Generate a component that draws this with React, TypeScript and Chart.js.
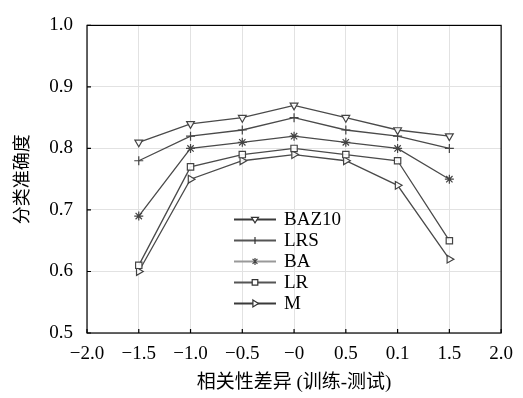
import React, { useEffect, useRef } from "react";
import { Chart, registerables } from "chart.js";
Chart.register(...registerables);

const xLabels = ["−2.0", "−1.5", "−1.0", "−0.5", "−0", "0.5", "0.1", "1.5", "2.0"];
const yTicks = [0.5, 0.6, 0.7, 0.8, 0.9, 1.0];
const seriesNames = ["BAZ10", "LRS", "BA", "LR", "M"];
const baz10 = [null, 0.81, 0.84, 0.85, 0.87, 0.85, 0.83, 0.82, null];
const lrs = [null, 0.78, 0.82, 0.83, 0.85, 0.83, 0.82, 0.80, null];
const ba = [null, 0.69, 0.80, 0.81, 0.82, 0.81, 0.80, 0.75, null];
const lr = [null, 0.61, 0.77, 0.79, 0.80, 0.79, 0.78, 0.65, null];
const m = [null, 0.60, 0.75, 0.78, 0.79, 0.78, 0.74, 0.62, null];
const xTitle = "相关性差异 (训练-测试)";
const yTitle = "分类准确度";

const FONT = '"Liberation Serif", "Noto Sans CJK SC", serif';

const styles = [
  { pointStyle: "triangle", rotation: 180, color: "#4a4a4a", legendColor: "#3a3a3a" },
  { pointStyle: "cross", rotation: 0, color: "#4a4a4a", legendColor: "#555" },
  { pointStyle: "star", rotation: 0, color: "#4a4a4a", legendColor: "#999" },
  { pointStyle: "rect", rotation: 0, color: "#4a4a4a", legendColor: "#555" },
  { pointStyle: "triangle", rotation: 90, color: "#4a4a4a", legendColor: "#3a3a3a" },
];

function drawMarker(ctx: CanvasRenderingContext2D, kind: number, x: number, y: number, r: number) {
  ctx.save();
  ctx.fillStyle = "#fff";
  ctx.strokeStyle = "#333";
  ctx.lineWidth = 1.2;
  ctx.beginPath();
  if (kind === 0) {
    ctx.moveTo(x - r, y - r * 0.6);
    ctx.lineTo(x + r, y - r * 0.6);
    ctx.lineTo(x, y + r);
    ctx.closePath();
    ctx.fill();
    ctx.stroke();
  } else if (kind === 1) {
    ctx.moveTo(x, y - r);
    ctx.lineTo(x, y + r);
    ctx.stroke();
  } else if (kind === 2) {
    ctx.strokeStyle = "#444";
    ctx.moveTo(x - r * 0.7, y - r * 0.7);
    ctx.lineTo(x + r * 0.7, y + r * 0.7);
    ctx.moveTo(x + r * 0.7, y - r * 0.7);
    ctx.lineTo(x - r * 0.7, y + r * 0.7);
    ctx.moveTo(x, y - r);
    ctx.lineTo(x, y + r);
    ctx.stroke();
  } else if (kind === 3) {
    ctx.rect(x - r * 0.8, y - r * 0.8, r * 1.6, r * 1.6);
    ctx.fill();
    ctx.stroke();
  } else {
    ctx.moveTo(x - r * 0.6, y - r);
    ctx.lineTo(x + r, y);
    ctx.lineTo(x - r * 0.6, y + r);
    ctx.closePath();
    ctx.fill();
    ctx.stroke();
  }
  ctx.restore();
}

const frame = {
  id: "frame",
  afterDraw(chart: any) {
    const { ctx, chartArea: a, scales } = chart;
    ctx.save();
    ctx.strokeStyle = "#000";
    ctx.lineWidth = 1.2;
    ctx.strokeRect(a.left, a.top, a.right - a.left, a.bottom - a.top);
    ctx.beginPath();
    scales.y.ticks.forEach((t: any) => {
      const y = scales.y.getPixelForValue(t.value);
      ctx.moveTo(a.left, y);
      ctx.lineTo(a.left + 4, y);
    });
    xLabels.forEach((_l, i) => {
      const x = scales.x.getPixelForValue(i);
      ctx.moveTo(x, a.bottom);
      ctx.lineTo(x, a.bottom - 4);
    });
    ctx.stroke();
    ctx.restore();

    // legend
    const lx = a.left + 147;
    const ty = a.top + 194;
    const step = 21;
    seriesNames.forEach((name, i) => {
      const y = ty + i * step;
      const st = styles[i];
      ctx.save();
      ctx.strokeStyle = st.legendColor;
      ctx.lineWidth = 2;
      ctx.beginPath();
      ctx.moveTo(lx, y);
      ctx.lineTo(lx + 42, y);
      ctx.stroke();
      ctx.restore();
      drawMarker(ctx, i, lx + 21, y, 3.5);
      ctx.save();
      ctx.fillStyle = "#000";
      ctx.font = `19px ${FONT}`;
      ctx.textBaseline = "middle";
      ctx.fillText(name, lx + 50, y + 1);
      ctx.restore();
    });
  },
};

export default function App() {
  const ref = useRef<HTMLCanvasElement>(null);
  useEffect(() => {
    document.body.style.margin = "0";
    const data = [baz10, lrs, ba, lr, m];
    const chart = new Chart(ref.current!, {
      type: "line",
      data: {
        labels: xLabels,
        datasets: data.map((d, i) => ({
          label: seriesNames[i],
          data: d as any,
          borderColor: styles[i].color,
          borderWidth: 1.3,
          pointStyle: styles[i].pointStyle as any,
          rotation: styles[i].rotation,
          pointRadius: 4.5,
          pointBackgroundColor: "rgba(255,255,255,0.9)",
          pointBorderColor: "#444",
          pointBorderWidth: 1.2,
          tension: 0,
        })),
      },
      options: {
        responsive: false,
        animation: false,
        layout: { padding: { top: 22, right: 20, left: 0, bottom: 0 } },
        plugins: {
          legend: { display: false },
          tooltip: { enabled: false },
        },
        scales: {
          x: {
            type: "category",
            offset: false,
            grid: { color: "#e2e2e2", drawTicks: false },
            border: { display: false },
            ticks: { color: "#000", font: { family: FONT, size: 19 }, padding: 10, autoSkip: false, maxRotation: 0 },
            title: { display: true, text: xTitle, color: "#000", font: { family: FONT, size: 19 }, padding: { top: 8 } },
            afterFit: (s: any) => { s.height = 65; },
          },
          y: {
            min: 0.5,
            max: 1.0,
            grid: { color: "#e2e2e2", drawTicks: false },
            border: { display: false },
            afterBuildTicks: (s: any) => { s.ticks = yTicks.map((v) => ({ value: v })); },
            ticks: { color: "#000", font: { family: FONT, size: 19 }, padding: 14, callback: (v: any) => Number(v).toFixed(1) },
            title: { display: true, text: yTitle, color: "#000", font: { family: FONT, size: 18 }, padding: { top: 12, bottom: 0 } },
            afterFit: (s: any) => { s.width = 87; },
          },
        },
      },
      plugins: [frame],
    });
    return () => chart.destroy();
  }, []);
  return (
    <div style={{ width: 523, height: 398 }}>
      <canvas ref={ref} width={523} height={398} />
    </div>
  );
}
